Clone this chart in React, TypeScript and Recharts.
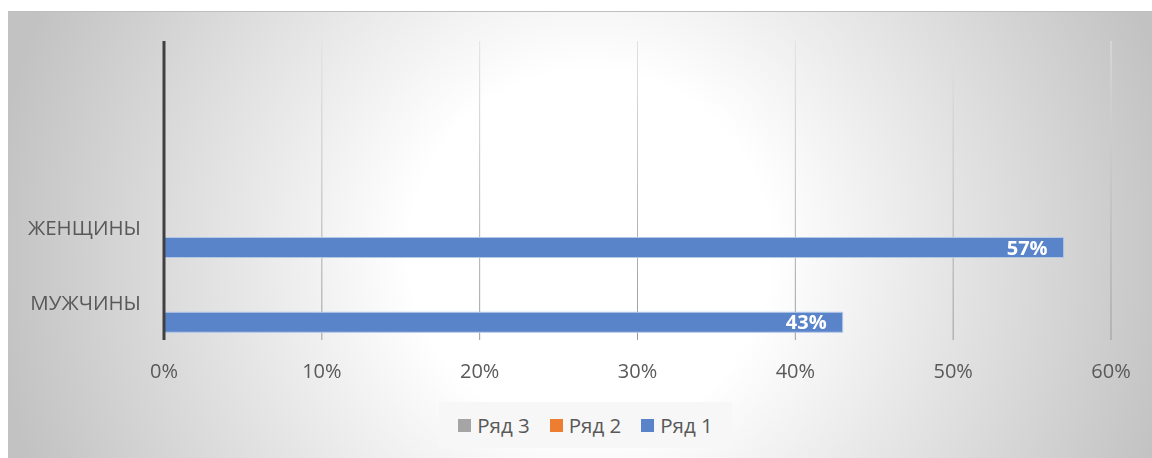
import { Bar, BarChart, CartesianGrid, LabelList, XAxis, YAxis } from 'recharts';

// categories top to bottom (Excel draws the first one at the bottom)
const categories = ['', ' ', 'ЖЕНЩИНЫ', 'МУЖЧИНЫ'];
const row1 = [null, null, 0.57, 0.43];
const row2 = [null, null, null, null];
const row3 = [null, null, null, null];
const xTicks = [0, 0.1, 0.2, 0.3, 0.4, 0.5, 0.6];

// legend order as in the picture
const seriesNames = ['Ряд 3', 'Ряд 2', 'Ряд 1'];
const seriesColors = ['#A5A5A5', '#ED7D31', '#5A84CA'];

const data = categories.map((name, i) => ({ name, r1: row1[i], r2: row2[i], r3: row3[i] }));

const FONT = '"Open Sans", "Liberation Sans", sans-serif';
const pct = (v: number | null) => (v == null ? '' : `${Math.round(v * 100)}%`);

export default function App() {
  return (
    <div
      style={{
        position: 'fixed', left: 8, top: 11, width: 1144, height: 447, boxSizing: 'border-box',
        borderTop: '1px solid #bfbfbf', fontFamily: FONT,
        background: 'radial-gradient(circle at 582px 239px, #ffffff 0px, #ffffff 180px, #c2c2c2 600px)',
      }}>
      <BarChart width={1144} height={446} data={data} layout="vertical" barSize={20} barGap={0}
        margin={{ top: 29, right: 41, left: 0, bottom: 68 }}>
        <defs>
          <linearGradient id="gridGrad" gradientUnits="userSpaceOnUse" x1="0" y1="29" x2="0" y2="328">
            <stop offset="0%" stopColor="#e2e2e2" />
            <stop offset="100%" stopColor="#9a9a9a" />
          </linearGradient>
        </defs>
        <CartesianGrid horizontal={false} stroke="url(#gridGrad)" />
        <XAxis type="number" domain={[0, 0.6]} ticks={xTicks} tickFormatter={pct}
          axisLine={false} tickLine={false} tickSize={0} tickMargin={24} height={50}
          tick={{ fill: '#595959', fontSize: 20, fontFamily: FONT }} />
        <YAxis type="category" dataKey="name" width={156} tickLine={false} tickSize={0} tickMargin={23}
          axisLine={{ stroke: '#404040', strokeWidth: 3 }}
          tick={{ fill: '#595959', fontSize: 20.5, fontFamily: FONT }} />
        <Bar dataKey="r3" name={seriesNames[0]} fill={seriesColors[0]} isAnimationActive={false} />
        <Bar dataKey="r2" name={seriesNames[1]} fill={seriesColors[1]} isAnimationActive={false} />
        <Bar dataKey="r1" name={seriesNames[2]} fill={seriesColors[2]} stroke="#B4C7E7" strokeWidth={1}
          isAnimationActive={false}>
          <LabelList dataKey="r1" position="insideRight" offset={16} formatter={pct}
            fill="#ffffff" fontSize={20} fontWeight="bold" fontFamily={FONT} />
        </Bar>
      </BarChart>
      <div
        style={{
          position: 'absolute', left: 431, top: 390, width: 293, height: 46,
          background: '#f7f7f7', display: 'flex', alignItems: 'center', justifyContent: 'center', gap: 20,
          fontSize: 20.5, color: '#595959',
        }}>
        {seriesNames.map((n, i) => (
          <span key={n} style={{ display: 'flex', alignItems: 'center', gap: 6 }}>
            <span style={{ width: 13, height: 13, background: seriesColors[i], display: 'inline-block' }} />
            {n}
          </span>
        ))}
      </div>
    </div>
  );
}
